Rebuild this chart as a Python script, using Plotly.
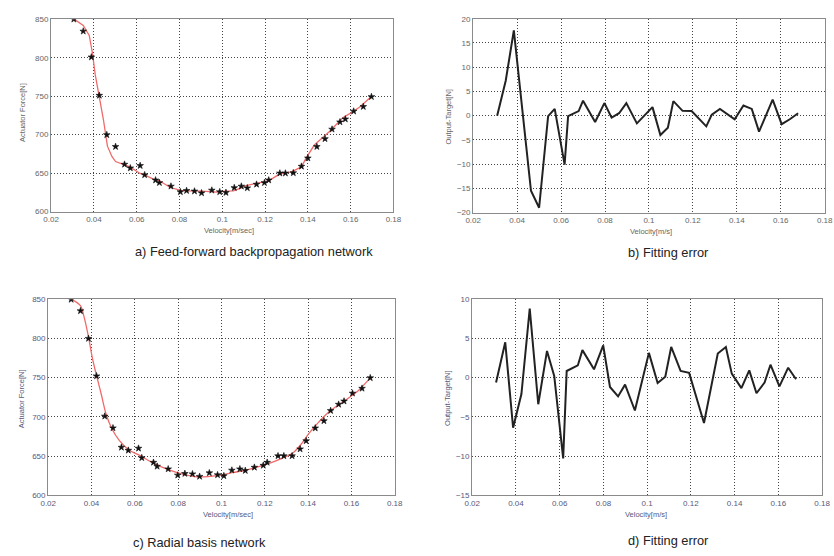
import plotly.graph_objects as go

W, H = 834, 556

# ---------------- data ----------------
# a) Feed-forward backpropagation network: measured points
vel_a = [0.0306, 0.0350, 0.0388, 0.0425, 0.0460, 0.0501, 0.0543, 0.0570, 0.0616, 0.0637,
         0.0688, 0.0706, 0.0760, 0.0804, 0.0833, 0.0870, 0.0903, 0.0951, 0.0988, 0.1017,
         0.1056, 0.1089, 0.1117, 0.1160, 0.1197, 0.1217, 0.1269, 0.1295, 0.1332, 0.1370,
         0.1400, 0.1442, 0.1480, 0.1513, 0.1550, 0.1575, 0.1614, 0.1659, 0.1697]
force_a = [850.0, 834.4, 800.8, 751.0, 699.8, 684.4, 661.4, 656.6, 659.7, 647.7,
           640.9, 637.5, 632.9, 625.6, 627.2, 626.5, 624.2, 627.7, 625.6, 624.7,
           631.0, 632.9, 630.7, 635.4, 637.5, 640.9, 649.9, 649.9, 650.3, 658.8,
           669.5, 684.4, 694.6, 707.0, 716.4, 720.2, 730.4, 736.4, 749.3]
# a) network output (red line)
fit_x_a = [0.0306, 0.0350, 0.0378, 0.0393, 0.0406, 0.0425, 0.0444, 0.0463, 0.0484, 0.0501,
           0.0541, 0.0568, 0.0616, 0.0637, 0.0682, 0.0706, 0.0755, 0.0804, 0.0833, 0.0870,
           0.0897, 0.0945, 0.0974, 0.1016, 0.1052, 0.1086, 0.1111, 0.1153, 0.1194, 0.1217,
           0.1261, 0.1286, 0.1323, 0.1370, 0.1390, 0.1430, 0.1468, 0.1501, 0.1563, 0.1604,
           0.1641, 0.1697]
fit_y_a = [850.5, 842.0, 829.0, 806.0, 778.0, 749.0, 720.0, 685.0, 671.6, 665.0,
           661.0, 658.0, 649.6, 647.6, 641.5, 640.0, 631.6, 627.5, 626.8, 627.0,
           626.5, 626.0, 625.4, 626.5, 627.0, 630.4, 633.7, 636.4, 638.5, 640.0,
           647.7, 650.1, 651.7, 658.0, 668.8, 686.5, 696.0, 704.0, 722.0, 728.6,
           735.7, 749.7]

# b) Fitting error of network a
err_x_b = [0.0309, 0.0348, 0.0385, 0.0463, 0.0500, 0.0541, 0.0571, 0.0616, 0.0632, 0.0680,
           0.0700, 0.0755, 0.0797, 0.0830, 0.0864, 0.0897, 0.0945, 0.0972, 0.1016, 0.1052,
           0.1086, 0.1111, 0.1153, 0.1194, 0.1261, 0.1286, 0.1323, 0.1390, 0.1430, 0.1468,
           0.1501, 0.1563, 0.1604, 0.1641, 0.1679]
err_y_b = [0.0, 7.2, 17.6, -15.5, -19.0, -0.1, 1.4, -10.1, -0.1, 0.95,
           3.1, -1.3, 2.6, -0.4, 0.5, 2.6, -1.6, -0.3, 1.76, -4.0,
           -2.5, 3.0, 1.0, 0.95, -2.2, 0.2, 1.4, -0.74, 2.1, 1.4,
           -3.3, 3.3, -1.76, -0.74, 0.5]

# c) Radial basis network: measured points
vel_c = [0.0306, 0.0349, 0.0386, 0.0423, 0.0461, 0.0499, 0.0538, 0.0570, 0.0617, 0.0632,
         0.0686, 0.0703, 0.0754, 0.0798, 0.0831, 0.0866, 0.0899, 0.0944, 0.0982, 0.1011,
         0.1048, 0.1085, 0.1110, 0.1152, 0.1193, 0.1211, 0.1261, 0.1288, 0.1326, 0.1363,
         0.1391, 0.1433, 0.1473, 0.1504, 0.1541, 0.1566, 0.1605, 0.1649, 0.1687]
force_c = [849.6, 835.0, 799.8, 752.0, 700.7, 685.7, 661.0, 657.2, 659.8, 647.7,
           641.8, 636.8, 633.4, 625.5, 627.6, 627.1, 623.9, 628.4, 625.9, 624.7,
           631.8, 633.4, 631.4, 635.5, 638.0, 641.8, 650.1, 650.1, 650.1, 658.9,
           669.3, 685.6, 694.8, 707.8, 715.8, 719.9, 730.0, 736.2, 749.6]
# c) network output (red line)
fit_x_c = [0.0306, 0.0349, 0.0364, 0.0386, 0.0404, 0.0422, 0.0445, 0.0467, 0.0494, 0.0528,
           0.0573, 0.0618, 0.0679, 0.0754, 0.0830, 0.0900, 0.0980, 0.1056, 0.1132, 0.1207,
           0.1282, 0.1328, 0.1365, 0.1403, 0.1449, 0.1494, 0.1539, 0.1585, 0.1630, 0.1687]
fit_y_c = [850.0, 841.6, 829.0, 802.0, 774.7, 753.8, 728.7, 703.6, 684.8, 670.0,
           657.7, 651.4, 641.8, 632.6, 626.3, 623.3, 625.0, 629.0, 633.4, 639.3,
           647.2, 653.5, 664.0, 678.5, 693.2, 705.7, 714.9, 723.7, 733.0, 749.6]

# d) Fitting error of network c
err_x_d = [0.0309, 0.0351, 0.0387, 0.0425, 0.0463, 0.0502, 0.0542, 0.0575, 0.0616, 0.0632,
           0.0683, 0.0704, 0.0757, 0.0799, 0.0830, 0.0867, 0.0899, 0.0944, 0.1008, 0.1048,
           0.1083, 0.1110, 0.1153, 0.1192, 0.1260, 0.1323, 0.1360, 0.1387, 0.1431, 0.1467,
           0.1500, 0.1537, 0.1564, 0.1605, 0.1645, 0.1681]
err_y_d = [-0.63, 4.5, -6.4, -2.1, 8.8, -3.4, 3.4, 0.2, -10.3, 0.84,
           1.55, 3.5, 1.05, 4.1, -1.2, -2.4, -0.9, -4.2, 3.15, -0.7,
           0.1, 3.9, 0.84, 0.6, -5.8, 3.07, 3.9, 0.5, -1.34, 0.92,
           -2.0, -0.63, 1.64, -1.13, 1.26, -0.21]

x_ticks = [0.02, 0.04, 0.06, 0.08, 0.1, 0.12, 0.14, 0.16, 0.18]
x_tick_text = ["0.02", "0.04", "0.06", "0.08", "0.1", "0.12", "0.14", "0.16", "0.18"]
force_ticks = [600, 650, 700, 750, 800, 850]
err_ticks_b = [-20, -15, -10, -5, 0, 5, 10, 15, 20]
err_ticks_d = [-15, -10, -5, 0, 5, 10]

captions = ["a) Feed-forward backpropagation network", "b) Fitting error",
            "c) Radial basis network", "d) Fitting error"]

# ---------------- layout helpers ----------------
def px(x):
    return x / W

def py(y):
    return 1 - y / H

FONT = "Liberation Sans, Arial, sans-serif"
TOP_COL = "#666666"
BOT_COL = "#58587a"

fig = go.Figure()

# panel geometry in pixels: (left, right, top, bottom)
panels = {
    1: (44, 393, 15.5, 211),
    2: (474.3, 832.7, 15, 212),
    3: (41, 394.3, 300, 499.3),
    4: (473.3, 830, 300, 499.3),
}

MARK = dict(symbol="star", size=5, color="#111111", line=dict(width=0.6, color="#111111"))

fig.add_trace(go.Scatter(x=fit_x_a, y=fit_y_a, mode="lines",
                         line=dict(color="#f06a6a", width=1.3), xaxis="x", yaxis="y",
                         showlegend=False))
fig.add_trace(go.Scatter(x=vel_a, y=force_a, mode="markers", marker=MARK,
                         xaxis="x", yaxis="y", showlegend=False))
fig.add_trace(go.Scatter(x=err_x_b, y=err_y_b, mode="lines",
                         line=dict(color="#222222", width=2), xaxis="x2", yaxis="y2",
                         showlegend=False))
fig.add_trace(go.Scatter(x=fit_x_c, y=fit_y_c, mode="lines", line_shape="spline",
                         line=dict(color="#f06a6a", width=1.3), xaxis="x3", yaxis="y3",
                         showlegend=False))
fig.add_trace(go.Scatter(x=vel_c, y=force_c, mode="markers", marker=MARK,
                         xaxis="x3", yaxis="y3", showlegend=False))
fig.add_trace(go.Scatter(x=err_x_d, y=err_y_d, mode="lines",
                         line=dict(color="#222222", width=2), xaxis="x4", yaxis="y4",
                         showlegend=False))

def axis_common(col):
    return dict(showgrid=True, gridcolor="#444444", griddash="1px,2px", gridwidth=1,
                showline=True, linecolor="#8a8a8a", linewidth=1.2, mirror=True,
                zeroline=False, ticks="", tickfont=dict(family=FONT, size=8, color=col))

layout = dict(width=W, height=H, margin=dict(l=0, r=0, t=0, b=0),
              paper_bgcolor="white", plot_bgcolor="white", showlegend=False)

yranges = {1: [600, 850], 2: [-20, 20], 3: [600, 850], 4: [-15, 10]}
yticks = {1: force_ticks, 2: err_ticks_b, 3: force_ticks, 4: err_ticks_d}
for i, (l, r, t, b) in panels.items():
    col = TOP_COL if i <= 2 else BOT_COL
    sx = "" if i == 1 else str(i)
    xa = axis_common(col)
    xa.update(domain=[px(l), px(r)], range=[0.02, 0.18], tickvals=x_ticks,
              ticktext=x_tick_text, anchor="y" + sx)
    ya = axis_common(col)
    ya.update(domain=[py(b), py(t)], range=yranges[i], tickvals=yticks[i],
              anchor="x" + sx)
    layout["xaxis" + sx] = xa
    layout["yaxis" + sx] = ya

fig.update_layout(**layout)

ann = []
def text(x, y, s, size, color, angle=0):
    ann.append(dict(x=px(x), y=py(y), xref="paper", yref="paper", text=s,
                    showarrow=False, textangle=angle, xanchor="center", yanchor="middle",
                    font=dict(family=FONT, size=size, color=color)))

# axis titles
text(225, 230, "Velocity[m/sec]", 7.5, TOP_COL)
text(656, 231, "Velocity[m/s]", 7.5, TOP_COL)
text(224, 519, "Velocity[m/sec]", 7.5, BOT_COL)
text(650, 519, "Velocity[m/s]", 7.5, BOT_COL)
text(15, 110, "Actuator Force[N]", 7.5, TOP_COL, -90)
text(449, 115, "Output-Target[N]", 7.5, TOP_COL, -90)
text(14, 401, "Actuator Force[N]", 7.5, BOT_COL, -90)
text(448, 401, "Output-Target[N]", 7.5, BOT_COL, -90)

# captions
text(251, 252, captions[0], 12.8, "#222222")
text(673, 253, captions[1], 12.8, "#222222")
text(195, 547, captions[2], 12.8, "#222222")
text(673, 545, captions[3], 12.8, "#222222")

fig.update_layout(annotations=ann)
fig.write_html("out.html")
